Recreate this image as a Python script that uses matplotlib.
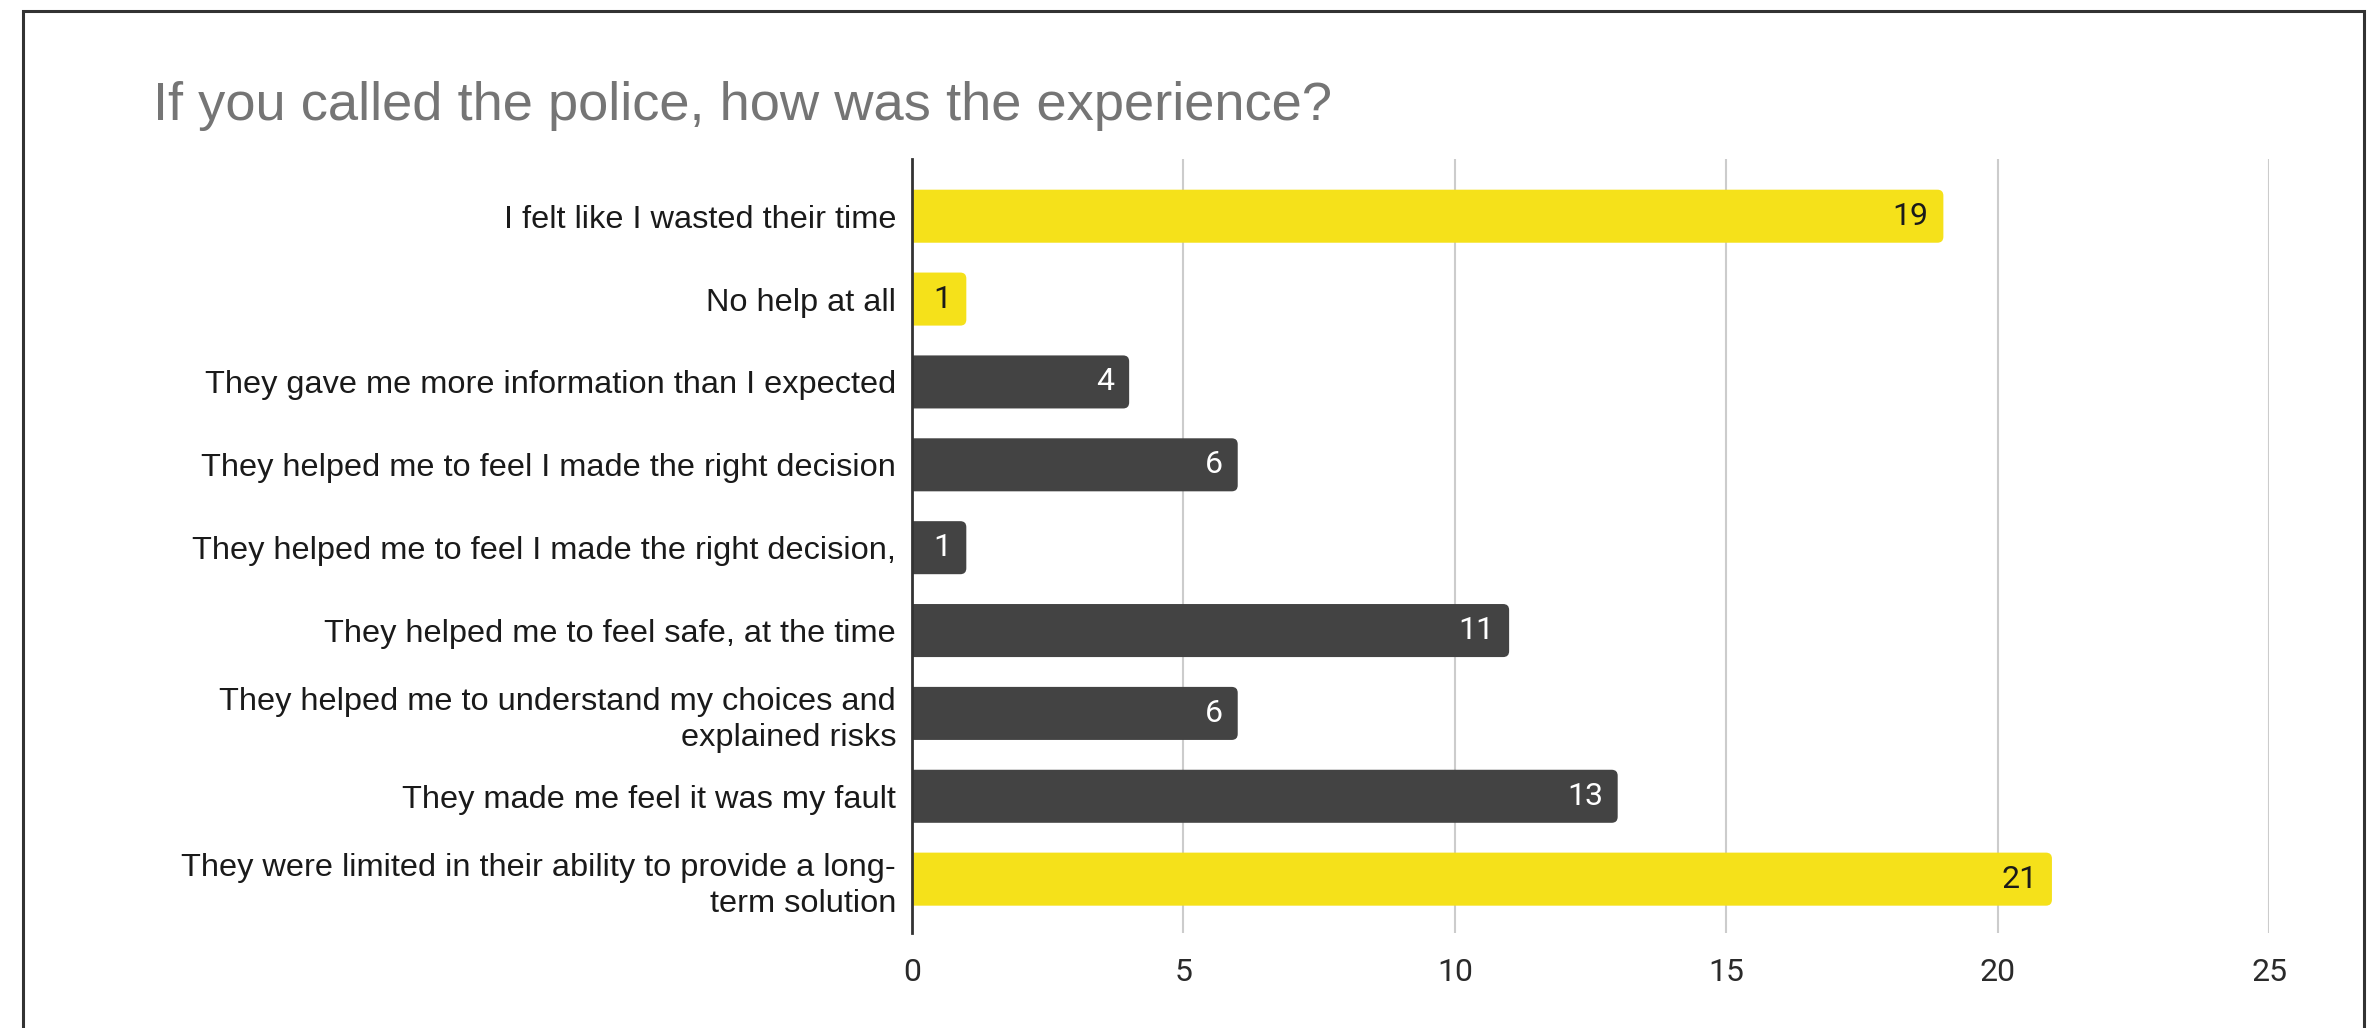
import matplotlib.pyplot as plt
from matplotlib.patches import Rectangle, FancyBboxPatch

# survey answers, top to bottom
answers = [
    "I felt like I wasted their time",
    "No help at all",
    "They gave me more information than I expected",
    "They helped me to feel I made the right decision",
    "They helped me to feel I made the right decision,",
    "They helped me to feel safe, at the time",
    "They helped me to understand my choices and\nexplained risks",
    "They made me feel it was my fault",
    "They were limited in their ability to provide a long-\nterm solution",
]
counts = [19, 1, 4, 6, 1, 11, 6, 13, 21]
highlight = [True, True, False, False, False, False, False, False, True]
x_ticks = [0, 5, 10, 15, 20, 25]

YELLOW = "#f5e11a"
DARK = "#434343"

fig = plt.figure(figsize=(23.72, 10.28), dpi=100)
ax = fig.add_axes([0.3845, 0.0924, 0.5721, 0.7529])

# outer frame of the card
fig.patches.append(Rectangle((0.0097, -0.05), 0.9871, 1.0393, transform=fig.transFigure,
                             fill=False, edgecolor="#333333", linewidth=2.2))

pos = list(range(len(answers)))
colors = [YELLOW if h else DARK for h in highlight]
bars = ax.barh(pos, counts, height=0.64, color=colors, zorder=3)

ax.set_xlim(0, 25)
ax.set_ylim(8.65, -0.69)

# swap the plain rectangles for ones with rounded ends
for rect in bars:
    rect.set_visible(False)
    x0, y0 = rect.get_x(), rect.get_y()
    w, h = rect.get_width(), rect.get_height()
    rounded = FancyBboxPatch((x0 - 0.3, y0), w + 0.3, h,
                             boxstyle="round,pad=0,rounding_size=0.11",
                             mutation_aspect=0.656, facecolor=rect.get_facecolor(),
                             edgecolor="none", zorder=3)
    ax.add_patch(rounded)

for rect, v, h in zip(bars, counts, highlight):
    ax.annotate(str(v), (rect.get_width(), rect.get_y() + rect.get_height() / 2),
                xytext=(-10.5, 0), textcoords="offset points", ha="right", va="center",
                fontsize=23, family="Roboto", color="#1a1a1a" if h else "white", zorder=4)

ax.set_xticks(x_ticks)
ax.set_xticklabels([str(t) for t in x_ticks], family="Roboto", fontsize=23, color="#2a2a2a")
ax.set_yticks(pos)
ax.set_yticklabels(answers, family="Liberation Sans", fontsize=23.4, color="#1a1a1a",
                   linespacing=1.28)
ax.tick_params(length=0)
ax.tick_params(axis="x", pad=18)
ax.tick_params(axis="y", pad=11.5)

ax.grid(axis="x", color="#cccccc", linewidth=1.5, zorder=0)
for s in ["top", "right", "bottom"]:
    ax.spines[s].set_visible(False)
ax.spines["left"].set_color("#333333")
ax.spines["left"].set_linewidth(2)
ax.spines["left"].set_zorder(5)

fig.text(0.0645, 0.897, "If you called the police, how was the experience?",
         family="Liberation Sans", fontsize=39.2, color="#757575", va="center", ha="left")

fig.savefig("out.png", dpi=100)
